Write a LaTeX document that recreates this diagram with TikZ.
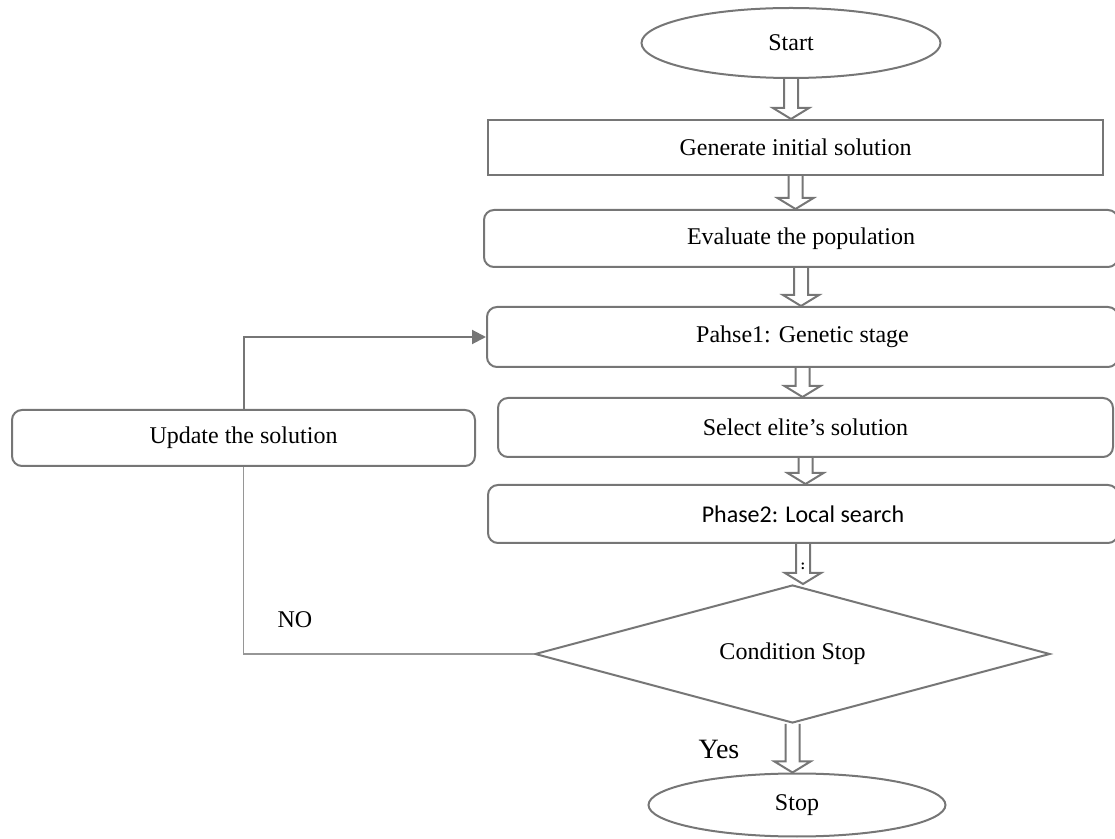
\documentclass[tikz,border=0pt]{standalone}
\usepackage{fontspec}
\setmainfont{Liberation Serif}
\newfontfamily\calibrifont{Carlito}
\usetikzlibrary{shapes.geometric, arrows.meta, calc}
\definecolor{boxgray}{RGB}{118,118,118}
\definecolor{nogray}{RGB}{150,150,150}

% hollow block arrow from one node down to the next
\newcommand{\hollowarrow}[2]{%
  \draw[boxgray, line width=1pt, line join=miter] let \p1=(#1.south), \p2=(#2.north) in
    (\x1-3.5pt,\y1) -- (\x1-3.5pt,\y2+5.5pt) -- (\x1-9pt,\y2+5.5pt) -- (\x1,\y2)
    -- (\x1+9pt,\y2+5.5pt) -- (\x1+3.5pt,\y2+5.5pt) -- (\x1+3.5pt,\y1);}

\begin{document}
\begin{tikzpicture}[x=0.5pt, y=-0.5pt,
    every node/.style={font=\fontsize{12}{14}\selectfont},
    termbox/.style={ellipse, draw=boxgray, line width=1pt, inner sep=0pt},
    stepbox/.style={rectangle, rounded corners=5pt, draw=boxgray, line width=1pt, inner sep=0pt},
    condbox/.style={diamond, aspect=3.7, draw=boxgray, line width=1pt, inner sep=0pt}]
    \useasboundingbox (0,0) rectangle (1115,839);

    \node[termbox, minimum width=149.5pt, minimum height=35pt] (start) at (791,43) {Start};
    \node[stepbox, sharp corners, minimum width=307.5pt, minimum height=27.5pt] (gen) at (795.5,147.5) {Generate initial solution};
    \node[stepbox, minimum width=317pt, minimum height=28.5pt] (eval) at (801,238.5) {Evaluate the population};
    \node[stepbox, minimum width=315.5pt, minimum height=30pt] (phase1) at (802.5,337) {Pahse1: Genetic stage};
    \node[stepbox, minimum width=307.5pt, minimum height=29.5pt] (elite) at (805.5,427.5) {Select elite’s solution};
    \node[stepbox, minimum width=315pt, minimum height=29pt] (phase2) at (803,514) {\calibrifont Phase2: Local search};
    \node[condbox, minimum width=257.5pt, minimum height=69pt] (cond) at (792.5,654) {Condition Stop};
    \node[termbox, minimum width=148.5pt, minimum height=31.5pt] (stop) at (797,805) {Stop};
    \node[stepbox, minimum width=231.5pt, minimum height=28pt] (update) at (243.5,438) {Update the solution};

    \hollowarrow{start}{gen}
    \hollowarrow{gen}{eval}
    \hollowarrow{eval}{phase1}
    \hollowarrow{phase1}{elite}
    \hollowarrow{elite}{phase2}
    \hollowarrow{phase2}{cond}
    \hollowarrow{cond}{stop}

    \draw[boxgray, line width=1pt, -{Triangle[length=7pt, width=7pt]}] (update.north) |- (phase1.west);
    \draw[nogray, line width=0.6pt] (cond.west) -| (update.south);

    \node (no) at (295,620) {NO};
    \node[font=\fontsize{14}{16}\selectfont] (yes) at (719,749) {Yes};
    \node[font=\fontsize{7}{8}\selectfont\bfseries, inner sep=0pt] (dots) at ($(phase2.south)+(0,22)$) {:};
\end{tikzpicture}
\end{document}
